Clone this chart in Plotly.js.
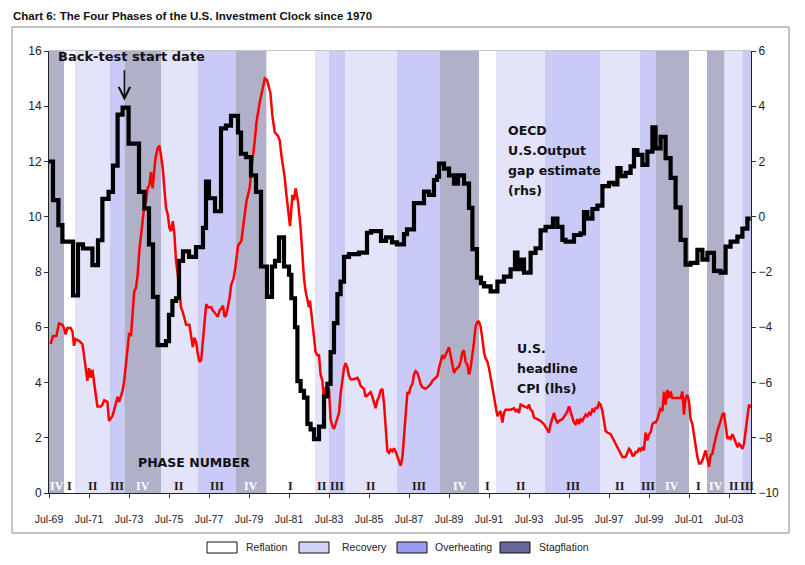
<!DOCTYPE html>
<html>
<head>
<meta charset="utf-8">
<script src="https://cdn.plot.ly/plotly-3.0.1.min.js"></script>
<style>html,body{margin:0;padding:0;background:#fff;}#chart{width:805px;height:565px;}</style>
</head>
<body>
<div id="chart"></div>
<script>
// ---- Data (decimal years) ----
const tickYears = [1969.5,1971.5,1973.5,1975.5,1977.5,1979.5,1981.5,1983.5,1985.5,1987.5,1989.5,1991.5,1993.5,1995.5,1997.5,1999.5,2001.5,2003.5];
const tickLabels = ['Jul-69','Jul-71','Jul-73','Jul-75','Jul-77','Jul-79','Jul-81','Jul-83','Jul-85','Jul-87','Jul-89','Jul-91','Jul-93','Jul-95','Jul-97','Jul-99','Jul-01','Jul-03'];

// Investment clock phases
const phaseStart = [1969.5,1970.25,1970.8,1972.55,1973.27,1975.1,1976.93,1978.83,1980.38,1982.8,1983.5,1984.3,1986.9,1989.05,1991.0,1991.85,1994.3,1997.05,1999.05,1999.83,2001.5,2002.4,2003.28,2004.17];
const phaseEnd   = [1970.25,1970.8,1972.55,1973.27,1975.1,1976.93,1978.83,1980.38,1982.8,1983.5,1984.3,1986.9,1989.05,1991.0,1991.85,1994.3,1997.05,1999.05,1999.83,2001.5,2002.4,2003.28,2004.17,2004.6];
const phaseCode  = ['IV','I','II','III','IV','II','III','IV','I','II','III','II','III','IV','I','II','III','II','III','IV','I','IV','II','III'];
const phaseNames = ['Reflation','Recovery','Overheating','Stagflation'];

// OECD U.S. output gap estimate (rhs, %), step points
const gapYears = [1969.50,1969.70,1969.97,1970.17,1970.70,1970.95,1971.20,1971.67,1971.95,1972.17,1972.48,1972.70,1972.93,1973.18,1973.48,1974.00,1974.27,1974.50,1974.70,1974.93,1975.35,1975.50,1975.67,1975.85,1976.00,1976.20,1976.50,1976.85,1977.20,1977.35,1977.50,1977.80,1978.10,1978.35,1978.60,1978.95,1979.10,1979.35,1979.60,1979.85,1980.10,1980.40,1980.65,1980.80,1981.00,1981.25,1981.50,1981.62,1981.80,1981.92,1982.08,1982.25,1982.42,1982.58,1982.75,1983.00,1983.25,1983.42,1983.58,1983.75,1983.92,1984.08,1984.25,1984.50,1985.00,1985.40,1985.60,1986.10,1986.35,1986.65,1986.90,1987.25,1987.40,1987.75,1988.25,1988.50,1988.75,1988.90,1989.00,1989.25,1989.50,1989.75,1989.95,1990.25,1990.50,1990.67,1990.90,1991.10,1991.25,1991.58,1991.92,1992.25,1992.58,1992.80,1992.92,1993.08,1993.25,1993.58,1993.83,1994.08,1994.33,1994.70,1994.92,1995.17,1995.33,1995.75,1996.08,1996.25,1996.42,1996.67,1996.92,1997.17,1997.50,1997.75,1997.92,1998.08,1998.33,1998.58,1998.75,1998.92,1999.17,1999.42,1999.67,1999.83,2000.08,2000.33,2000.58,2000.83,2001.08,2001.33,2001.58,2001.92,2002.17,2002.42,2002.75,2003.08,2003.33,2003.58,2003.92,2004.17,2004.42,2004.58];
const gapValues = [2.0,0.6,-0.3,-0.9,-2.85,-1.0,-1.15,-1.75,-0.85,0.65,0.9,1.85,3.7,3.95,2.65,0.9,0.3,-1.0,-2.9,-4.65,-4.5,-3.55,-3.05,-2.95,-1.6,-1.25,-1.45,-1.1,-0.4,1.27,0.67,0.2,3.2,3.3,3.65,3.05,2.28,2.16,1.5,0.9,-1.8,-2.9,-1.8,-1.6,-0.75,-1.8,-2.1,-2.95,-4.0,-5.95,-6.3,-6.55,-7.5,-7.7,-8.05,-7.6,-6.5,-6.05,-4.9,-3.85,-2.8,-2.35,-1.45,-1.35,-1.3,-0.58,-0.52,-0.87,-0.75,-0.93,-1.0,-0.63,-0.46,0.49,0.91,0.79,1.33,1.45,1.92,1.74,1.5,1.2,1.5,1.2,0.32,-1.17,-2.2,-2.4,-2.52,-2.7,-2.35,-2.17,-1.9,-1.3,-1.9,-1.55,-2.02,-1.31,-1.14,-0.49,-0.37,-0.07,-0.37,-0.84,-0.9,-0.66,-0.6,0.17,-0.07,0.28,0.4,1.11,1.23,1.17,1.76,1.47,1.59,1.82,2.41,2.24,1.88,2.36,3.24,2.47,2.89,2.12,1.41,0.34,-0.84,-1.73,-1.67,-1.2,-1.55,-1.31,-1.96,-2.02,-1.08,-0.9,-0.72,-0.43,-0.07,-0.07];

// U.S. headline CPI (lhs, % y/y)
const cpiYears = [1969.58,1969.70,1969.87,1970.00,1970.17,1970.25,1970.33,1970.42,1970.58,1970.67,1970.75,1970.83,1971.00,1971.17,1971.25,1971.42,1971.50,1971.59,1971.67,1971.75,1971.84,1971.92,1972.09,1972.17,1972.26,1972.42,1972.50,1972.59,1972.67,1972.76,1972.93,1973.01,1973.09,1973.18,1973.26,1973.35,1973.43,1973.51,1973.60,1973.68,1973.76,1973.85,1973.93,1974.02,1974.18,1974.27,1974.35,1974.43,1974.52,1974.60,1974.68,1974.77,1974.82,1974.93,1975.02,1975.10,1975.19,1975.27,1975.35,1975.44,1975.52,1975.60,1975.69,1975.77,1975.85,1975.94,1976.02,1976.10,1976.19,1976.36,1976.52,1976.61,1976.69,1976.77,1976.86,1976.94,1977.02,1977.11,1977.19,1977.28,1977.36,1977.44,1977.61,1977.69,1977.86,1977.94,1978.03,1978.11,1978.20,1978.28,1978.36,1978.53,1978.61,1978.73,1978.83,1978.95,1979.12,1979.20,1979.37,1979.53,1979.62,1979.70,1979.78,1979.87,1980.03,1980.12,1980.20,1980.29,1980.40,1980.50,1980.57,1980.67,1980.79,1980.95,1981.04,1981.12,1981.29,1981.37,1981.46,1981.55,1981.67,1981.75,1981.83,1981.95,1982.08,1982.17,1982.25,1982.33,1982.42,1982.50,1982.55,1982.62,1982.67,1982.75,1982.83,1982.92,1983.00,1983.08,1983.17,1983.22,1983.28,1983.33,1983.42,1983.50,1983.58,1983.67,1983.75,1983.83,1983.92,1984.00,1984.08,1984.17,1984.25,1984.33,1984.42,1984.50,1984.58,1984.75,1984.92,1985.00,1985.08,1985.25,1985.33,1985.42,1985.58,1985.67,1985.75,1985.83,1985.92,1986.00,1986.08,1986.17,1986.25,1986.33,1986.42,1986.50,1986.58,1986.67,1986.75,1986.83,1986.92,1987.00,1987.08,1987.17,1987.25,1987.33,1987.42,1987.50,1987.58,1987.67,1987.75,1987.83,1987.92,1988.00,1988.08,1988.17,1988.33,1988.50,1988.58,1988.67,1988.83,1988.92,1989.00,1989.08,1989.17,1989.25,1989.33,1989.42,1989.50,1989.58,1989.67,1989.75,1989.83,1989.92,1990.00,1990.08,1990.17,1990.25,1990.33,1990.42,1990.50,1990.58,1990.67,1990.75,1990.83,1990.92,1991.00,1991.08,1991.17,1991.25,1991.33,1991.42,1991.50,1991.58,1991.67,1991.75,1991.83,1991.92,1992.00,1992.08,1992.17,1992.25,1992.33,1992.42,1992.58,1992.75,1992.83,1992.92,1993.00,1993.08,1993.25,1993.42,1993.50,1993.58,1993.67,1993.75,1993.92,1994.08,1994.25,1994.42,1994.50,1994.58,1994.67,1994.75,1994.83,1994.92,1995.00,1995.17,1995.33,1995.42,1995.50,1995.58,1995.67,1995.75,1995.83,1995.92,1996.00,1996.08,1996.17,1996.25,1996.33,1996.42,1996.50,1996.58,1996.67,1996.75,1996.83,1996.92,1997.00,1997.08,1997.17,1997.25,1997.33,1997.42,1997.58,1997.67,1997.75,1997.92,1998.08,1998.17,1998.33,1998.42,1998.50,1998.58,1998.67,1998.75,1998.83,1998.92,1999.00,1999.08,1999.17,1999.25,1999.33,1999.42,1999.50,1999.58,1999.67,1999.75,1999.83,1999.92,2000.00,2000.08,2000.17,2000.25,2000.33,2000.42,2000.50,2000.58,2000.67,2000.75,2000.92,2001.08,2001.17,2001.25,2001.33,2001.42,2001.50,2001.58,2001.67,2001.75,2001.83,2001.92,2002.00,2002.08,2002.17,2002.25,2002.33,2002.42,2002.50,2002.58,2002.67,2002.75,2002.83,2002.92,2003.08,2003.17,2003.25,2003.33,2003.42,2003.50,2003.58,2003.67,2003.75,2003.83,2003.92,2004.00,2004.08,2004.17,2004.25,2004.33,2004.42,2004.50,2004.58];
const cpiValues = [5.39,5.68,5.68,6.14,6.09,5.97,5.74,5.97,5.97,5.86,5.33,5.57,5.51,5.39,4.99,4.06,4.52,4.17,4.46,4.06,3.71,3.13,3.13,3.19,3.36,3.3,2.61,2.72,2.78,3.01,3.48,3.3,3.48,3.71,4.06,4.64,5.22,5.8,5.68,6.72,7.3,7.42,7.88,8.8,9.96,10.43,10.55,11.03,11.15,11.62,11.03,11.74,12.1,12.46,12.58,12.22,11.74,11.03,10.32,10.08,9.6,9.48,9.84,9.37,8.41,7.88,7.19,6.72,6.55,6.09,6.09,5.68,5.28,5.62,5.45,5.04,4.75,4.81,5.57,6.26,6.84,6.72,6.72,6.61,6.43,6.38,6.61,6.67,6.78,6.38,6.43,7.07,7.54,7.77,8.23,8.95,9.13,9.6,10.55,11.03,11.74,12.22,12.69,13.4,14.12,14.42,14.72,15.01,14.95,14.66,14.48,13.65,13.05,12.93,12.75,12.22,11.39,10.79,10.08,9.66,10.79,10.6,11.03,10.55,9.6,8.46,7.77,7.3,6.96,6.72,6.96,6.55,6.14,5.68,5.1,4.99,4.99,4.29,4.06,3.59,3.36,3.83,3.48,3.77,2.67,2.43,2.32,2.49,2.72,2.9,3.59,4.06,4.52,4.7,4.52,4.23,4.12,4.12,4.17,4.06,3.88,3.77,3.48,3.54,3.65,3.48,3.25,3.07,3.36,3.48,3.71,3.77,3.25,2.32,1.51,1.45,1.57,1.51,1.62,1.51,1.33,1.16,0.99,1.28,2.09,2.9,3.65,3.59,3.83,3.94,4.29,4.41,4.35,4.17,3.94,3.83,3.77,3.88,3.94,4.06,4.17,4.23,4.52,4.75,4.99,4.87,4.99,5.1,5.28,4.99,4.64,4.35,4.46,4.52,4.58,4.75,5.1,5.16,4.75,4.64,4.29,4.52,4.99,5.45,6.03,6.2,6.2,6.03,5.57,5.1,4.87,4.75,4.52,4.17,3.71,3.36,3.13,2.78,2.9,2.96,2.55,2.9,3.01,3.01,3.01,3.07,2.96,3.01,2.9,3.2,3.14,3.08,3.2,3.02,2.96,2.73,2.67,2.61,2.49,2.25,2.19,2.49,2.73,2.9,2.67,2.55,2.61,2.67,2.84,2.96,3.14,2.9,2.73,2.55,2.49,2.67,2.49,2.67,2.61,2.73,2.84,2.78,2.9,2.84,3.02,2.96,3.08,3.08,3.26,3.2,2.96,2.61,2.25,2.19,2.13,2.01,1.9,1.66,1.42,1.3,1.3,1.48,1.6,1.54,1.36,1.36,1.48,1.48,1.6,1.54,1.66,1.54,2.19,1.9,2.13,2.19,2.49,2.55,2.55,2.67,2.84,3.08,2.96,3.67,3.2,3.73,3.44,3.67,3.44,3.44,3.44,3.44,3.67,2.84,3.44,3.55,3.32,2.67,2.49,2.13,1.66,1.3,1.07,1.07,1.18,1.36,1.54,1.24,0.95,1.36,1.42,1.72,2.01,2.25,2.61,2.84,2.9,2.49,1.96,2.01,1.96,2.13,2.01,1.84,1.66,1.78,1.72,1.6,1.78,2.25,2.84,3.2,3.08];

// ---- Styling ----
const phaseFill = {I:'#ffffff', II:'#e3e3fa', III:'#cacaf7', IV:'#b0b0c8'};
const legendFill = ['#ffffff','#d2d2f8','#9a9af2','#68689c'];
const comic = 'DejaVu Sans, Verdana, sans-serif';
const arial = 'Liberation Sans, Arial, sans-serif';

const X0 = 1969.5, X1 = 2004.6;
const shapes = [];
shapes.push({type:'line', xref:'paper', yref:'paper', x0:0, x1:1, y0:1, y1:1, line:{color:'#8a8a8a', width:1}, layer:'below'});
for (let i = 0; i < phaseStart.length; i++) {
  shapes.push({type:'rect', xref:'x', yref:'paper', x0:phaseStart[i], x1:phaseEnd[i], y0:0, y1:1,
    fillcolor: phaseFill[phaseCode[i]], line:{width:0}, layer:'below'});
}
// outer frame (pixels converted to paper: plot area x 49..751, y 51..493)
const px = v => (v - 49) / 702;
const py = v => (493 - v) / 442;
shapes.push({type:'rect', xref:'paper', yref:'paper', x0:px(12), x1:px(789), y0:py(533), y1:py(27), line:{color:'#8c8c8c', width:1}, fillcolor:'rgba(0,0,0,0)', layer:'above'});

const annotations = [];
annotations.push({xref:'paper', yref:'paper', x:px(11), y:py(16), xanchor:'left', yanchor:'middle', showarrow:false,
  text:'<b>Chart 6: The Four Phases of the U.S. Investment Clock since 1970</b>', font:{family:'Liberation Sans Narrow, Arial Narrow, Liberation Sans, Arial', size:11.5, color:'#111'}});

// phase numerals at band centres
for (let i = 0; i < phaseStart.length; i++) {
  annotations.push({xref:'x', yref:'paper', x:(phaseStart[i]+phaseEnd[i])/2, y:py(486), xanchor:'center', yanchor:'middle', showarrow:false,
    text:'<b>'+phaseCode[i]+'</b>', font:{family:'Liberation Serif, Times New Roman, serif', size:12, color: phaseCode[i]==='IV' ? '#ffffff' : '#1a1a1a'}});
}
annotations.push({xref:'paper', yref:'paper', x:px(136), y:py(462), xanchor:'left', yanchor:'middle', showarrow:false,
  text:'<b>PHASE NUMBER</b>', font:{family:comic, size:12.5, color:'#111'}});
annotations.push({xref:'paper', yref:'paper', x:px(56), y:py(57), xanchor:'left', yanchor:'middle', showarrow:false,
  text:'<b>Back-test start date</b>', font:{family:comic, size:13, color:'#111'}});
annotations.push({xref:'x', yref:'y', x:1973.27, y:14.2, ax:0, ay:-32, showarrow:true, arrowhead:5, arrowsize:1.4, arrowwidth:1.6, arrowcolor:'#111', text:''});
const oecd = ['OECD','U.S.Output','gap estimate','(rhs)'];
oecd.forEach((t, k) => annotations.push({xref:'paper', yref:'paper', x:px(506), y:py(130 + 20*k), xanchor:'left', yanchor:'middle', showarrow:false,
  text:'<b>'+t+'</b>', font:{family:comic, size:12.5, color:'#111'}}));
const cpiLbl = ['U.S.','headline','CPI (lhs)'];
cpiLbl.forEach((t, k) => annotations.push({xref:'paper', yref:'paper', x:px(515), y:py(348 + 20*k), xanchor:'left', yanchor:'middle', showarrow:false,
  text:'<b>'+t+'</b>', font:{family:comic, size:12.5, color:'#111'}}));

// legend (boxes + labels)
const legBoxX = [207, 299, 397, 500];
const legTxtX = [244, 340, 433, 537];
phaseNames.forEach((n, k) => {
  shapes.push({type:'rect', xref:'paper', yref:'paper', x0:px(legBoxX[k]), x1:px(legBoxX[k]+30), y0:py(553), y1:py(542),
    fillcolor: legendFill[k], line:{color:'#111', width:1}, layer:'above'});
  annotations.push({xref:'paper', yref:'paper', x:px(legTxtX[k]), y:py(547), xanchor:'left', yanchor:'middle', showarrow:false,
    text:n, font:{family:arial, size:10.5, color:'#222'}});
});

const traces = [
  {x: cpiYears, y: cpiValues, yaxis:'y', type:'scatter', mode:'lines', name:'U.S. headline CPI (lhs)',
   line:{color:'#ff0000', width:2.5}, hoverinfo:'skip'},
  {x: gapYears, y: gapValues, yaxis:'y2', type:'scatter', mode:'lines', name:'OECD U.S. output gap (rhs)',
   line:{color:'#000000', width:4.2, shape:'hv'}, hoverinfo:'skip'}
];

const layout = {
  width:805, height:565,
  margin:{l:49, r:54, t:51, b:72, pad:0},
  paper_bgcolor:'#ffffff', plot_bgcolor:'#ffffff',
  showlegend:false,
  xaxis:{type:'linear', range:[X0, X1], tickmode:'array', tickvals:tickYears, ticktext:tickLabels,
    ticks:'outside', ticklen:4, tickcolor:'#333', showline:true, linecolor:'#222', linewidth:1,
    showgrid:false, zeroline:false, tickfont:{family:arial, size:10.5, color:'#222'}, ticklabelstandoff:12},
  yaxis:{range:[0,16], dtick:2, tick0:0, ticks:'outside', ticklen:4, tickcolor:'#333', showline:true, linecolor:'#222', linewidth:1,
    showgrid:false, zeroline:false, tickfont:{family:arial, size:12, color:'#222'}},
  yaxis2:{range:[-10,6], dtick:2, tick0:-10, overlaying:'y', side:'right', ticks:'outside', ticklen:4, tickcolor:'#333', showline:true, linecolor:'#222', linewidth:1,
    showgrid:false, zeroline:false, tickfont:{family:arial, size:12, color:'#222'}},
  shapes: shapes,
  annotations: annotations
};

Plotly.newPlot('chart', traces, layout, {staticPlot:true, displayModeBar:false});
</script>
</body>
</html>
